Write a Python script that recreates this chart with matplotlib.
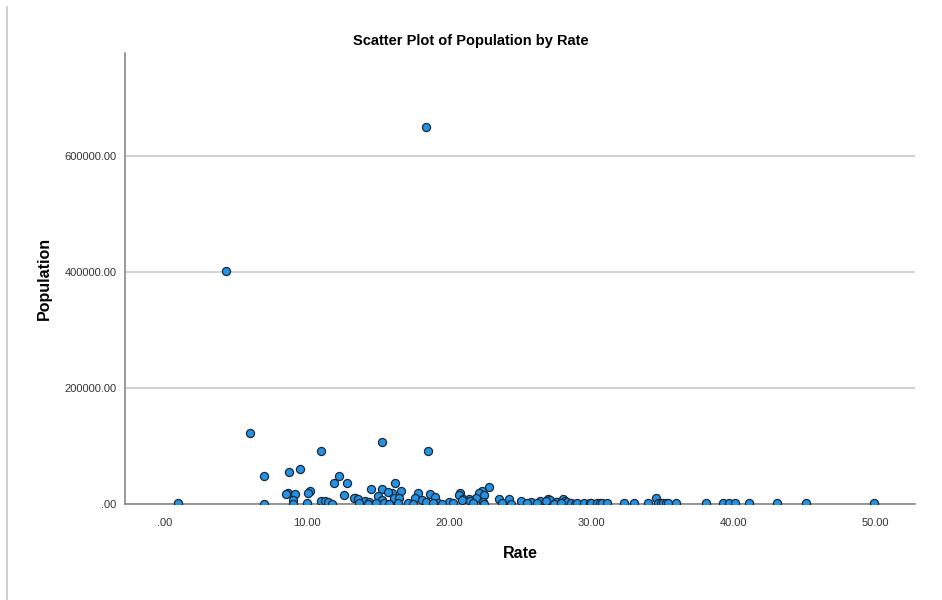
import matplotlib
matplotlib.use("Agg")
import matplotlib.pyplot as plt
from matplotlib.lines import Line2D

# Rate / population pairs
rate = [
    18.4, 4.3, 6.0, 15.3, 11.0, 18.5, 9.5, 8.75, 7.0, 12.25,
    11.9, 12.8, 16.2, 22.8, 14.5, 15.3, 10.2, 16.6, 22.3, 8.7,
    10.1, 16.0, 22.1, 8.5, 9.2, 15.7, 17.8, 18.7, 20.8, 12.6,
    20.7, 22.5, 15.0, 19.0, 13.4, 34.6, 13.3, 16.1, 16.5, 17.6,
    21.9, 13.6, 21.4, 21.0, 23.5, 24.2, 27.0, 28.0, 9.0, 15.3,
    18.1, 20.9, 27.1, 11.0, 11.3, 14.1, 21.5, 25.1, 26.4, 28.2,
    26.8, 11.5, 18.4, 20.0, 22.4, 25.8, 27.6, 28.3, 14.4, 27.5,
    10.0, 0.96, 19.2,
    7.0, 9.0, 11.8, 13.7, 14.3, 14.9, 15.4, 15.8, 16.4, 17.1,
    17.5, 18.9, 19.5, 20.3, 21.7, 22.5, 23.7, 24.4, 25.5, 26.2,
    27.4, 27.9, 28.6, 28.9, 29.0, 29.5, 29.9, 30.0, 30.4, 30.6,
    30.8, 31.1, 32.3, 33.0, 34.0, 34.7, 34.9, 35.1, 35.3, 35.4,
    36.0, 38.1, 39.3, 39.7, 40.1, 41.1, 43.1, 45.1, 49.9,
]
population = [
    650000, 402000, 123000, 107400, 92000, 92000, 59800, 55700, 48500, 48800,
    36700, 35700, 35700, 29800, 25900, 25300, 22400, 22900, 22400, 19500,
    19500, 19500, 19500, 17000, 17000, 21200, 18400, 17800, 18400, 16000,
    15500, 15500, 13800, 11500, 10900, 10000, 9800, 9800, 9800, 9800,
    9800, 8600, 8100, 8100, 8100, 8100, 8100, 8600, 7000, 6900,
    6900, 6900, 6900, 5700, 5700, 5700, 5700, 5700, 5700, 5700,
    5700, 4000, 4000, 4000, 4000, 4000, 4000, 4000, 2900, 2900,
    2000, 1000, 1200,
    0, 0, 0, 1000, 500, 1000, 1500, 500, 1000, 1500,
    500, 1000, 500, 1000, 1500, 500, 1000, 500, 1000, 1500,
    500, 1000, 2000, 500, 2000, 1500, 2000, 1000, 1500, 1000,
    2000, 1500, 1000, 1000, 1500, 2000, 1500, 2000, 1000, 1500,
    1000, 1000, 1500, 1000, 1000, 1000, 1000, 1000, 1000,
]

x_ticks = [0, 10, 20, 30, 40, 50]
y_ticks = [0, 200000, 400000, 600000]


def fmt_label(v):
    s = f"{v:.2f}"
    return s[1:] if s.startswith("0") else s


def plot_scatter():
    plt.rcParams['font.family'] = ['Liberation Sans', 'DejaVu Sans']
    fig = plt.figure(figsize=(9.42, 6.0), dpi=100)
    ax = fig.add_axes([0.1327, 0.16, 0.8386, 0.7517])

    ax.scatter(rate, population, s=34, color='#2592e4', edgecolors='#1a2a3a',
               linewidths=0.9, zorder=3)

    ax.set_xlim(-2.8, 52.8)
    ax.set_ylim(0, 777000)
    ax.set_xticks(x_ticks)
    ax.set_xticklabels([fmt_label(v) for v in x_ticks])
    ax.set_yticks(y_ticks)
    ax.set_yticklabels([fmt_label(v) for v in y_ticks])
    ax.tick_params(length=0, labelsize=8, colors='#333333')
    ax.tick_params(axis='x', pad=10)
    ax.tick_params(axis='y', pad=6)

    ax.yaxis.grid(True, color='#d3d3d3', linewidth=1.5, zorder=0)
    ax.set_axisbelow(True)
    for side in ['top', 'right']:
        ax.spines[side].set_visible(False)
    for side in ['left', 'bottom']:
        ax.spines[side].set_color('#888888')
        ax.spines[side].set_linewidth(1.2)

    ax.set_xlabel("Rate", fontsize=11.5, fontweight='bold', labelpad=13)
    ax.set_ylabel("Population", fontsize=11.5, fontweight='bold', labelpad=9)
    fig.text(0.5, 0.932, "Scatter Plot of Population by Rate", ha='center',
             va='center', fontsize=10.5, fontweight='bold')

    # thin frame line at the left edge of the image
    fig.add_artist(Line2D([0.007, 0.007], [0, 0.988], transform=fig.transFigure,
                          color='#c8c8c8', linewidth=1.2))

    fig.savefig("out.png", dpi=100)


if __name__ == "__main__":
    plot_scatter()
